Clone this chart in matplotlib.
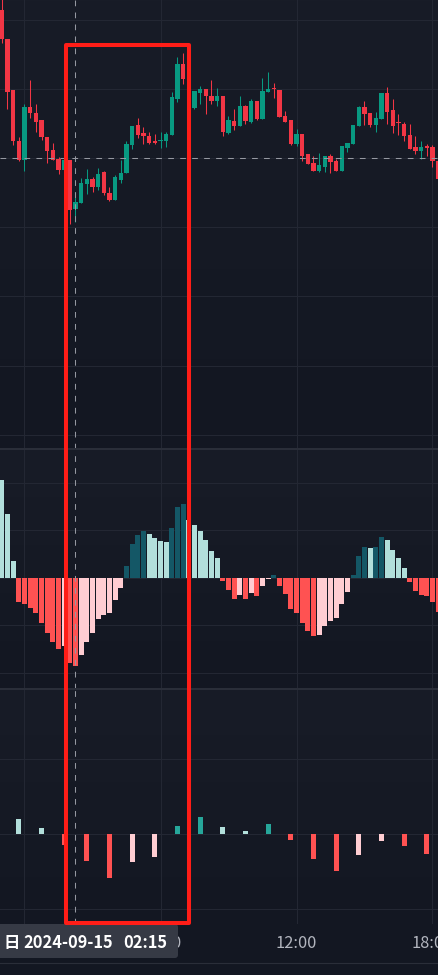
import numpy as np
import matplotlib
matplotlib.use("Agg")
import matplotlib.pyplot as plt
from matplotlib.patches import Rectangle, FancyBboxPatch
from matplotlib.lines import Line2D
from matplotlib.colors import LinearSegmentedColormap
from matplotlib.transforms import IdentityTransform

plt.rcParams['font.family'] = ['Noto Sans CJK SC', 'DejaVu Sans']

# 15分钟K线, 第一根 = 2024-09-14 23:00 (索引 0 = 09-15 00:00)
idx = np.arange(-4, 74)
opens = [2695, 2680.5, 2655, 2629.5, 2620, 2646.5, 2643.5, 2640, 2631.5, 2625,
         2620.5, 2615, 2620, 2595.5, 2598.5, 2608, 2610.5, 2606.5, 2614, 2603.5,
         2600, 2610, 2613.5, 2627.5, 2637.5, 2633.5, 2632, 2629.5, 2629.3, 2629.5,
         2632.5, 2650.5, 2668, 2660.5, 2646, 2653.5, 2655.5, 2652, 2649.5, 2652,
         2633.5, 2639.5, 2637, 2647, 2639, 2649.5, 2640.5, 2654, 2655.5, 2655,
         2642, 2640, 2628, 2633, 2623, 2618.5, 2614.5, 2616.5, 2622, 2619.5,
         2614.5, 2626, 2628, 2637, 2646.5, 2643.5, 2637.5, 2640.5, 2653.5, 2645,
         2638.5, 2638, 2632.5, 2626.5, 2624.5, 2627, 2626.5, 2619.5]
highs = [2702.5, 2680.5, 2655, 2631.5, 2648, 2660, 2648, 2640, 2631.5, 2628.5,
         2621.5, 2620, 2620, 2604, 2611, 2615.5, 2611.5, 2616, 2614.5, 2606.5,
         2612.5, 2620, 2629.5, 2637, 2641, 2636.5, 2634, 2633, 2634, 2634,
         2654, 2671.5, 2673.5, 2662, 2654.5, 2657, 2655.5, 2660, 2656, 2652,
         2642, 2645.5, 2652, 2647.5, 2650.5, 2649.5, 2661, 2664, 2658.5, 2655,
         2644.5, 2640, 2635.5, 2633, 2623, 2622, 2623.5, 2622, 2623, 2620.5,
         2627, 2628.5, 2637.5, 2647, 2649.5, 2643.5, 2644, 2653.5, 2656.5, 2650.5,
         2643, 2639, 2638, 2632, 2629.5, 2628, 2627.5, 2622]
lows = [2678.5, 2645.5, 2627.5, 2619.5, 2614.5, 2641, 2634, 2630, 2618.5, 2620,
        2613, 2615, 2588, 2589, 2598.5, 2603, 2604, 2605, 2602.5, 2599.5,
        2600, 2608.5, 2613.5, 2625.5, 2631, 2628, 2628, 2628, 2626, 2626.5,
        2632.5, 2649, 2658, 2647, 2645.5, 2648, 2643, 2648, 2647, 2632,
        2633, 2635, 2637, 2638, 2638.5, 2640, 2640.5, 2654, 2651, 2641.5,
        2639, 2627.5, 2627, 2619.5, 2618, 2614.5, 2614, 2614, 2613.5, 2614.5,
        2614.5, 2624, 2628, 2637, 2637.5, 2636.5, 2634, 2640.5, 2638, 2633.5,
        2632.5, 2629.5, 2625.5, 2623, 2620.5, 2622, 2616.5, 2610.5]
closes = [2680.5, 2654, 2629.5, 2620, 2646.5, 2643.5, 2639, 2631.5, 2624.5, 2620,
          2615, 2620, 2595, 2599, 2608.5, 2610.5, 2606.5, 2613, 2603.5, 2600,
          2611.5, 2613.5, 2628, 2637, 2632.5, 2632, 2628.5, 2628.5, 2629.5, 2633,
          2651.5, 2668, 2660.5, 2650, 2654.5, 2655.5, 2652, 2649.5, 2652, 2634,
          2640, 2637, 2647, 2639.5, 2649.5, 2640.5, 2654.5, 2655.5, 2655.3, 2641.5,
          2639, 2628, 2633, 2622, 2618, 2614.5, 2617.5, 2622, 2619, 2614.5,
          2627, 2628.5, 2637.5, 2646.5, 2643, 2637.5, 2641, 2653.5, 2644, 2637,
          2638.3, 2632, 2625.5, 2624.5, 2626.5, 2626, 2619.5, 2610.5]

# MACD 柱 (15分钟)
macd_hist = [9.8, 6.4, 1.7, -2.4, -2.6, -3.0, -3.5, -4.5, -5.5, -6.4,
             -7.1, -6.8, -8.5, -8.8, -7.7, -6.4, -5.5, -4.1, -3.7, -3.5,
             -2.2, -1.0, 1.2, 3.4, 4.3, 4.7, 4.4, 4.0, 3.7, 3.6,
             5.0, 7.1, 7.4, 5.8, 5.3, 4.7, 3.8, 2.7, 2.0, -0.3,
             -1.2, -2.1, -1.7, -2.1, -1.5, -1.8, -0.8, -0.15, 0.3, -0.8,
             -1.6, -3.1, -3.5, -4.5, -5.3, -5.8, -5.7, -4.8, -4.3, -4.0,
             -2.6, -1.4, 0.3, 2.2, 3.1, 3.0, 3.1, 4.1, 3.8, 2.8,
             2.0, 1.0, -0.4, -1.3, -1.7, -1.8, -2.4, -3.4]

# 1小时柱, 落在每小时最后一根15分钟K线上
hour_idx = np.arange(-1, 72, 4)
hour_hist = [1.5, 0.6, -1.1, -2.7, -4.4, -2.8, -2.3, 0.8, 1.7, 0.7,
             0.3, 1.0, -0.6, -2.5, -3.7, -2.1, -0.7, -1.2, -2.0]

time_ticks = [0, 24, 48, 72]
time_labels = ['15', '06:00', '12:00', '18:00']

cross_i = 9
cross_price = 2621
tip_day, tip_date, tip_time = '日', '2024-09-15', '02:15'

W, H = 439, 975
step = 136 / 24          # 每根K线宽度 (px)
x0 = 24.5                # 00:00 所在位置 (px)
xlim = (-x0 / step, (W - x0) / step)

BG_TOP, BG_BOT = '#181c27', '#131722'
GRID = '#232733'
LINE = '#2a2e39'
UP, DOWN = '#089981', '#f23645'
bg_cmap = LinearSegmentedColormap.from_list('bg', [BG_TOP, BG_BOT])

fig = plt.figure(figsize=(W / 100, H / 100), dpi=100)
fig.patch.set_facecolor(BG_BOT)


def pane(top, bottom):
    ax = fig.add_axes([0, 1 - bottom / H, 1, (bottom - top) / H])
    ax.set_axis_off()
    ax.imshow(np.linspace(0, 1, 256).reshape(-1, 1), cmap=bg_cmap, aspect='auto',
              extent=(0, 1, 0, 1), transform=ax.transAxes, zorder=0)
    return ax


ax1 = pane(0, 449)
ax2 = pane(449, 689)
ax3 = pane(689, 924)
ax4 = fig.add_axes([0, 1 - 975 / H, 1, 51 / H])
ax4.set_axis_off()

# ---- K线
o, h, l, c = map(np.array, (opens, highs, lows, closes))
col = np.where(c >= o, UP, DOWN)
ax1.vlines(idx, l, h, colors=col, linewidth=0.75, zorder=3)
ax1.bar(idx, np.maximum(np.abs(c - o), 0.6), bottom=np.minimum(o, c), width=0.74,
        color=col, linewidth=0, zorder=4)
ax1.set_ylim(2700 - 449 / 2, 2700)
for g in np.arange(2482.6, 2700, 34.6):
    ax1.axhline(g, color=GRID, lw=0.8, zorder=1)

# ---- MACD
m = np.array(macd_hist)
pm = np.r_[m[0], m[:-1]]
mcol = np.where(m >= 0, np.where(m > pm, '#145766', '#b2dfdb'),
                np.where(m < pm, '#ff5252', '#ffcdd2'))
ax2.bar(idx, m, width=0.84, color=mcol, linewidth=0, zorder=3)
ax2.set_ylim(-(689 - 577.7) / 10, (577.7 - 449) / 10)
for g in np.arange(-9.5, 12, 4.75):
    ax2.axhline(g, color=GRID, lw=0.8, zorder=1)

# ---- 1小时柱
v = np.array(hour_hist)
pv = np.r_[v[0], v[:-1]]
vcol = np.where(v >= 0, np.where(v > pv, '#26a69a', '#b2dfdb'),
                np.where(v < pv, '#ff5252', '#ffcdd2'))
ax3.bar(hour_idx, v, width=0.86, color=vcol, linewidth=0, zorder=3)
ax3.set_ylim(-(924 - 834.3) / 10, (834.3 - 689) / 10)
for g in (-7.5, 0, 7.5):
    ax3.axhline(g, color=GRID, lw=0.8, zorder=1)

for ax in (ax1, ax2, ax3):
    ax.set_xlim(*xlim)
    for t in time_ticks:
        ax.axvline(t, color=GRID, lw=0.8, zorder=1)
    ax.axvline(cross_i, color='#9598a1', lw=0.75, dashes=(5.5, 6), zorder=6)
ax1.axhline(cross_price, color='#9598a1', lw=0.75, dashes=(5.5, 6), zorder=6)

# ---- 时间轴
ax4.set_xlim(*xlim)
ax4.set_ylim(0, 1)
ax4.axhline(1 - 39 / 51, color=LINE, lw=0.8)
for t, lab in zip(time_ticks, time_labels):
    ax4.text(t, 1 - 20 / 51, lab, ha='center', va='center', color='#b2b5be', fontsize=11.8)

# 分隔线
for yy in (449, 689):
    fig.add_artist(Line2D([0, 1], [1 - yy / H] * 2, transform=fig.transFigure,
                          color=LINE, lw=1.5, zorder=5))

# 十字光标时间标签
fig.add_artist(FancyBboxPatch((-6, H - 958), 184, 34, boxstyle='round,pad=0,rounding_size=3',
                              transform=IdentityTransform(), facecolor='#363a45',
                              edgecolor='none', zorder=8))
for xx, s in ((3, tip_day), (23, tip_date), (123, tip_time)):
    fig.text(xx / W, 1 - 943 / H, s, ha='left', va='center', color='white',
             fontsize=11.8, fontweight='bold', zorder=9)

# 红色标注框
fig.add_artist(Rectangle((66, H - 923), 123, 878, transform=IdentityTransform(), fill=False,
                         edgecolor='#ff1d17', lw=2.9, joinstyle='round', zorder=10))

fig.savefig('out.png', dpi=100, facecolor=fig.get_facecolor())
